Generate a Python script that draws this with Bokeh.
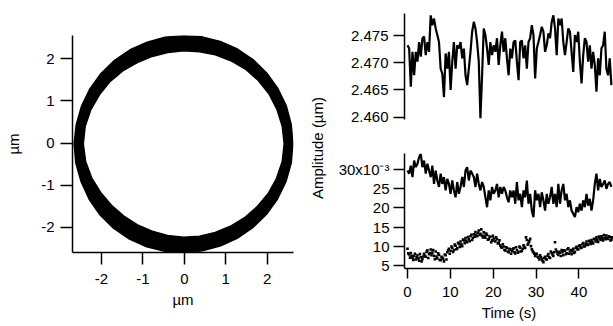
import numpy as np
from bokeh.plotting import figure
from bokeh.layouts import row, column
from bokeh.models import Range1d, FixedTicker, NumeralTickFormatter, Label
from bokeh.embed import file_html
from bokeh.resources import INLINE

FONT = "Liberation Sans"
FS = "15px"

# ---------------- data: trajectory ring (µm) ----------------
ring_center_x = -0.02
ring_center_y = -0.02
ring_angle_deg = [0, 10, 20, 30, 40, 50, 60, 70, 80, 90, 100, 110, 120, 130, 140, 150, 160, 170,
                  180, 190, 200, 210, 220, 230, 240, 250, 260, 270, 280, 290, 300, 310, 320, 330, 340, 350]
ring_outer_r = [2.64, 2.64, 2.64, 2.63, 2.62, 2.61, 2.60, 2.59, 2.58, 2.57, 2.57, 2.57, 2.58, 2.59, 2.60, 2.61, 2.62, 2.63,
                2.64, 2.64, 2.63, 2.63, 2.63, 2.62, 2.61, 2.60, 2.59, 2.59, 2.58, 2.58, 2.59, 2.60, 2.61, 2.62, 2.63, 2.64]
ring_inner_r = [2.43, 2.42, 2.40, 2.38, 2.35, 2.32, 2.28, 2.25, 2.22, 2.21, 2.20, 2.21, 2.23, 2.27, 2.31, 2.34, 2.38, 2.41,
                2.42, 2.40, 2.36, 2.31, 2.27, 2.24, 2.22, 2.21, 2.21, 2.22, 2.23, 2.24, 2.26, 2.29, 2.32, 2.36, 2.39, 2.42]
xy_ticks = [-2, -1, 0, 1, 2]
xy_tick_labels = {-2: "-2", -1: "-1", 0: "0", 1: "1", 2: "2"}

# ---------------- data: amplitude vs time ----------------
SAMPLE_INTERVAL_S = 0.3867
amp_radius_um = [
    2.4732, 2.4726, 2.4656, 2.4720, 2.4677, 2.4720, 2.4702, 2.4738, 2.4711, 2.4745,
    2.4748, 2.4714, 2.4738, 2.4720, 2.4787, 2.4769, 2.4781, 2.4763, 2.4751, 2.4738,
    2.4689, 2.4680, 2.4637, 2.4717, 2.4689, 2.4720, 2.4650, 2.4702, 2.4738, 2.4689,
    2.4732, 2.4726, 2.4738, 2.4708, 2.4726, 2.4677, 2.4659, 2.4689, 2.4720, 2.4757,
    2.4775, 2.4763, 2.4738, 2.4702, 2.4598, 2.4677, 2.4763, 2.4751, 2.4726, 2.4696,
    2.4738, 2.4714, 2.4732, 2.4720, 2.4745, 2.4696, 2.4732, 2.4757, 2.4720, 2.4745,
    2.4708, 2.4677, 2.4726,
    2.4708, 2.4738, 2.4741, 2.4702, 2.4668, 2.4738, 2.4741, 2.4708, 2.4732, 2.4689,
    2.4738, 2.4745, 2.4769, 2.4751, 2.4671, 2.4726, 2.4738, 2.4751, 2.4766, 2.4757,
    2.4720, 2.4732, 2.4754, 2.4745, 2.4775, 2.4787, 2.4763, 2.4714, 2.4781, 2.4769,
    2.4781, 2.4738, 2.4714, 2.4738, 2.4763, 2.4757, 2.4720, 2.4683, 2.4751, 2.4738,
    2.4757, 2.4702, 2.4662, 2.4714, 2.4745, 2.4738, 2.4702, 2.4732, 2.4689, 2.4720,
    2.4696, 2.4647, 2.4708, 2.4677, 2.4726, 2.4732, 2.4757, 2.4689, 2.4677, 2.4708,
    2.4659]
# values in units of 1e-3 µm
amp_line_e3 = [
    29.8, 29.0, 31.1, 28.1, 32.4, 30.7, 31.6, 33.3, 34.2, 30.7,
    32.4, 29.0, 31.6, 29.8, 28.1, 31.1, 26.3, 29.8, 27.2, 25.5,
    29.0, 26.3, 28.1, 24.6, 27.6, 26.3, 23.7, 27.2, 24.6, 22.8,
    26.8, 23.7, 25.5, 28.1, 25.5, 29.8, 30.7, 27.2, 29.8, 29.0,
    28.1, 25.5, 29.0, 26.3, 24.6, 26.8, 25.5, 22.8, 20.2, 24.6,
    22.0, 25.5, 23.7, 24.6, 26.3, 22.8, 25.5, 23.7, 25.5, 24.6,
    22.8, 21.5, 24.6,
    22.8, 24.6, 21.1, 26.8, 22.0, 23.7, 20.2, 24.6, 22.8, 27.2,
    21.1, 23.7, 19.3, 17.6, 24.6, 22.0, 23.7, 20.2, 24.1, 22.0,
    19.3, 23.7, 21.1, 22.8, 25.5, 21.1, 23.7, 20.2, 26.3, 21.1,
    24.6, 26.3, 22.0, 23.7, 20.2, 22.0, 19.3, 18.5, 17.6, 20.2,
    18.9, 21.1, 19.3, 22.0, 20.2, 23.7, 20.6, 22.4, 19.3, 22.0,
    26.3, 29.0, 24.6, 27.6, 25.5, 26.3, 27.2, 25.0, 26.3, 26.8,
    25.5]
# dotted trace, samples on the grid points ...
amp_dots_e3 = [
    9.3, 7.8, 8.2, 6.9, 7.4, 6.5, 7.6, 6.2, 7.1, 6.6,
    8.0, 7.2, 8.9, 7.9, 9.1, 8.3, 7.5, 8.6, 6.8, 7.7,
    6.3, 7.0, 6.0, 7.6, 8.4, 9.3,
    8.8, 9.6, 9.0, 10.1, 9.4, 10.6, 11.2, 10.0, 11.5, 12.1,
    11.0, 11.8, 12.6, 11.6, 13.1, 13.7, 12.6, 14.1, 13.2, 12.8,
    13.6, 12.2, 12.9, 11.8, 12.4, 11.5, 12.0, 11.2, 11.8, 10.9,
    10.2, 9.6, 9.9, 8.9, 9.5, 8.4, 9.1,
    8.7, 9.4, 8.1, 9.0, 8.5, 9.6, 8.8, 10.2, 9.5, 11.6,
    10.8, 11.9, 9.2, 8.4, 7.4, 8.0, 7.0, 7.6, 6.6, 5.8,
    7.2, 6.5, 7.9, 6.9, 8.2, 7.4, 11.0, 8.6, 7.7, 8.3,
    9.0, 7.6, 8.8, 8.1, 9.4, 8.6, 7.9, 9.3, 8.5, 9.8,
    9.1, 10.2, 9.6, 10.8, 10.0, 11.2, 10.4, 11.0, 11.6, 10.7,
    11.8, 12.3, 11.1, 12.0, 12.6, 11.5, 12.2, 12.8, 11.9, 12.4, 11.7]
# ... and the samples half-way between them
amp_dots_mid_e3 = [
    8.1, 7.0, 7.5, 6.4, 8.0, 7.1, 6.8, 7.9, 6.0, 7.3,
    7.4, 8.5, 6.9, 8.2, 7.6, 9.0, 6.6, 7.3, 8.1, 6.4,
    7.2, 6.7, 7.8, 6.5, 8.9, 8.0,
    9.9, 8.5, 10.4, 9.2, 10.9, 9.8, 10.5, 11.7, 10.8, 11.4,
    12.4, 11.3, 13.0, 12.2, 12.5, 13.0, 13.5, 12.9, 14.4, 12.3,
    12.7, 13.3, 11.7, 12.5, 11.0, 12.7, 11.4, 12.3, 10.7, 11.5,
    9.7, 10.5, 9.0, 9.7, 8.6, 9.3, 8.0,
    9.2, 8.4, 9.7, 8.3, 9.9, 8.6, 9.3, 9.8, 12.3, 10.4,
    11.3, 10.0, 8.7, 8.0, 7.9, 7.2, 6.5, 7.1, 6.1, 6.9,
    6.6, 7.5, 7.1, 8.6, 7.8, 8.4, 9.1, 8.0, 8.5, 7.4,
    8.4, 8.9, 7.9, 9.2, 8.0, 9.0, 8.7, 8.2, 9.5, 9.2,
    10.0, 9.5, 10.5, 9.9, 10.6, 10.3, 11.4, 10.6, 11.1, 11.9,
    11.2, 11.7, 12.5, 11.6, 12.2, 12.9, 11.8, 12.1, 12.6, 11.5, 12.3]
time_ticks = [0, 10, 20, 30, 40]
top_ticks = [2.460, 2.465, 2.470, 2.475]
bottom_ticks = [5, 10, 15, 20, 25, 30]
bottom_tick_labels = {30: "30x10\u207b\u00b3"}


def style_axis(ax, tick_out=11, standoff=6):
    ax.axis_line_color = "black"
    ax.axis_line_width = 1.5
    ax.major_tick_line_color = "black"
    ax.major_tick_line_width = 1.5
    ax.major_tick_in = 0
    ax.major_tick_out = tick_out
    ax.minor_tick_line_color = None
    ax.major_label_standoff = standoff
    ax.major_label_text_font = FONT
    ax.major_label_text_font_size = FS
    ax.major_label_text_color = "black"
    ax.axis_label_text_font = FONT
    ax.axis_label_text_font_size = FS
    ax.axis_label_text_font_style = "normal"
    ax.axis_label_text_color = "black"


def base_fig(**kw):
    p = figure(output_backend="svg", toolbar_location=None, **kw)
    p.outline_line_color = None
    p.background_fill_color = "white"
    p.border_fill_color = "white"
    p.xgrid.visible = False
    p.ygrid.visible = False
    return p


# ---------------- left: ring ----------------
pL = base_fig(width=300, height=326,
              x_range=Range1d(-2.70, 2.635), y_range=Range1d(-2.60, 2.553),
              min_border_left=72, min_border_right=7, min_border_top=35, min_border_bottom=74)
th = np.deg2rad(np.array(ring_angle_deg, dtype=float))
ox = ring_center_x + np.array(ring_outer_r) * np.cos(th)
oy = ring_center_y + np.array(ring_outer_r) * np.sin(th)
ix = ring_center_x + np.array(ring_inner_r) * np.cos(th)
iy = ring_center_y + np.array(ring_inner_r) * np.sin(th)
pL.multi_polygons(xs=[[[list(ox), list(ix)]]], ys=[[[list(oy), list(iy)]]],
                  fill_color="black", line_color="black", line_width=1.5)
pL.xaxis.ticker = FixedTicker(ticks=xy_ticks)
pL.yaxis.ticker = FixedTicker(ticks=xy_ticks)
pL.xaxis.major_label_overrides = xy_tick_labels
pL.yaxis.major_label_overrides = xy_tick_labels
pL.xaxis.axis_label = "µm"
pL.yaxis.axis_label = "µm"
style_axis(pL.xaxis[0], tick_out=12, standoff=9)
style_axis(pL.yaxis[0], tick_out=12, standoff=6)
pL.xaxis.axis_label_standoff = 4
pL.yaxis.axis_label_standoff = 16

# ---------------- label column ----------------
pA = base_fig(width=35, height=326, x_range=Range1d(0, 35), y_range=Range1d(326, 0),
              min_border=0, min_border_left=0, min_border_right=0, min_border_top=0, min_border_bottom=0)
pA.xaxis.visible = False
pA.yaxis.visible = False
pA.add_layout(Label(x=17, y=169, text="Amplitude (µm)", angle=90, angle_units="deg",
                    text_align="center", text_baseline="middle",
                    text_font=FONT, text_font_size=FS, text_color="black"))

# ---------------- right: amplitude traces ----------------
t_range = Range1d(-0.70, 48.06)
t_top = np.arange(len(amp_radius_um)) * SAMPLE_INTERVAL_S
t_line = np.arange(len(amp_line_e3)) * SAMPLE_INTERVAL_S
t_dots = np.arange(len(amp_dots_e3)) * SAMPLE_INTERVAL_S
t_dots_mid = (np.arange(len(amp_dots_mid_e3)) + 0.5) * SAMPLE_INTERVAL_S

pT = base_fig(width=278, height=136, x_range=t_range, y_range=Range1d(2.45958, 2.47904),
              min_border_left=68, min_border_right=0, min_border_top=13, min_border_bottom=17)
pT.line(t_top, amp_radius_um, line_color="black", line_width=2.2)
pT.xaxis.visible = False
pT.yaxis.ticker = FixedTicker(ticks=top_ticks)
pT.yaxis.formatter = NumeralTickFormatter(format="0.000")
style_axis(pT.yaxis[0], tick_out=11, standoff=5)

pB = base_fig(width=278, height=190, x_range=t_range, y_range=Range1d(4.14, 34.27),
              min_border_left=68, min_border_right=0, min_border_top=17, min_border_bottom=58)
pB.line(t_line, amp_line_e3, line_color="black", line_width=2.2)
pB.scatter(t_dots, amp_dots_e3, marker="square", size=2.6, fill_color="black", line_color=None)
pB.scatter(t_dots_mid, amp_dots_mid_e3, marker="square", size=2.6, fill_color="black", line_color=None)
pB.xaxis.ticker = FixedTicker(ticks=time_ticks)
pB.yaxis.ticker = FixedTicker(ticks=bottom_ticks)
pB.yaxis.major_label_overrides = bottom_tick_labels
pB.xaxis.axis_label = "Time (s)"
style_axis(pB.xaxis[0], tick_out=10, standoff=8)
style_axis(pB.yaxis[0], tick_out=11, standoff=4)
pB.xaxis.axis_label_standoff = 4

layout = row(pL, pA, column(pT, pB))
open("out.html", "w").write(file_html(layout, INLINE))
